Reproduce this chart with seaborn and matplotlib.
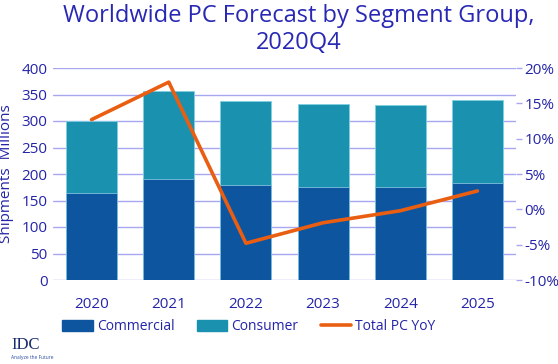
import matplotlib
matplotlib.use("Agg")
import matplotlib.pyplot as plt
import seaborn as sns
import pandas as pd
import numpy as np
from matplotlib.patches import Patch
from matplotlib.lines import Line2D

years = ["2020", "2021", "2022", "2023", "2024", "2025"]
commercial = [165, 190, 179, 176, 176, 183]
consumer = [135, 166, 159, 157, 155, 157]
yoy = [12.7, 18.0, -4.8, -1.9, -0.2, 2.6]

sns.set_theme(style="white")
plt.rcParams['font.family'] = ['Open Sans', 'DejaVu Sans']

c_comm = "#0e55a0"
c_cons = "#1b91b0"
c_line = "#ea5e12"
tick_col = "#2424a8"
grid_col = "#a8a8f0"

fig = plt.figure(figsize=(5.58, 3.64), dpi=100)
ax = fig.add_axes([53/558, 1-280/364, (516-53)/558, (280-68)/364])

df = pd.DataFrame({"year": years, "Commercial": commercial, "Consumer": consumer})
df["Total"] = df["Commercial"] + df["Consumer"]

sns.barplot(data=df, x="year", y="Total", color=c_cons, width=0.66, ax=ax,
            saturation=1, edgecolor="#7fd0e0", linewidth=0.6)
sns.barplot(data=df, x="year", y="Commercial", color=c_comm, width=0.66, ax=ax,
            saturation=1, edgecolor="#7fc0e0", linewidth=0.6)

ax.set_ylim(0, 400)
ax.set_yticks(range(0, 401, 50))
ax.set_xlim(-0.5, 5.5)
ax.yaxis.grid(True, color=grid_col, linewidth=1)
ax.set_axisbelow(True)
for s in ax.spines.values():
    s.set_visible(False)
ax.tick_params(axis="both", colors=tick_col, labelsize=11, length=0, pad=4)
ax.tick_params(axis="x", pad=12)
ax.set_xlabel("")
ax.set_ylabel("Shipments  Millions", color=tick_col, fontsize=11, labelpad=5)

ax2 = ax.twinx()
sns.lineplot(x=np.arange(len(years)), y=yoy, ax=ax2, color=c_line, linewidth=2.6)
ax2.set_ylim(-10, 20)
ax2.set_yticks(range(-10, 21, 5))
ax2.set_yticklabels([f"{v}%" for v in range(-10, 21, 5)])
for s in ax2.spines.values():
    s.set_visible(False)
ax2.tick_params(axis="y", colors=tick_col, labelsize=11, length=4, width=1, pad=2)
ax2.tick_params(axis="y", color=grid_col)
ax2.set_xlim(-0.5, 5.5)

fig.text(0.535, 0.99, "Worldwide PC Forecast by Segment Group,\n2020Q4",
         ha="center", va="top", color="#2828b4", fontsize=17, linespacing=1.2)

handles = [Patch(color=c_comm, label="Commercial"),
           Patch(color=c_cons, label="Consumer"),
           Line2D([0], [0], color=c_line, lw=2.6, label="Total PC YoY")]
fig.legend(handles=handles, loc="center", bbox_to_anchor=(249/558, 1-327/364),
           ncol=3, frameon=False, fontsize=10, labelcolor=tick_col,
           handlelength=2.2, handleheight=0.8, columnspacing=1.6, handletextpad=0.3)

fig.text(0.02, 1-345/364, "IDC", fontsize=12, color="#1a2a6a",
         family="Liberation Serif", va="center", ha="left")
fig.text(0.02, 1-357/364, "Analyze the Future", fontsize=3.5, color="#2a4aa0", va="center")

fig.savefig("out.png", dpi=100)
